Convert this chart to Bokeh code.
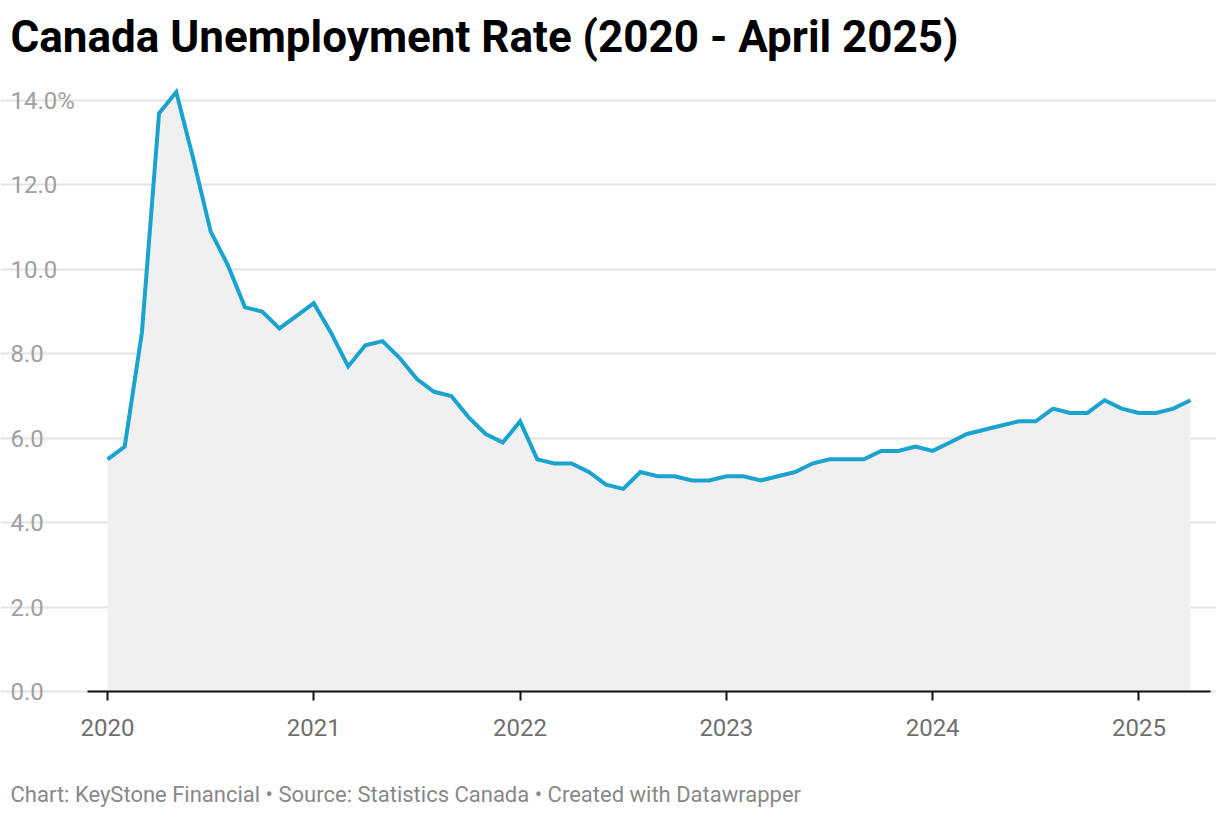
from bokeh.plotting import figure
from bokeh.models import Range1d, FixedTicker, ColumnDataSource, Title
from bokeh.core.properties import value
from bokeh.embed import file_html
from bokeh.resources import INLINE

# ---- data (monthly unemployment rate, %) ----
rate_2020 = [5.5, 5.8, 8.5, 13.7, 14.2, 12.6, 10.9, 10.1, 9.1, 9.0, 8.6, 8.9]
rate_2021 = [9.2, 8.5, 7.7, 8.2, 8.3, 7.9, 7.4, 7.1, 7.0, 6.5, 6.1, 5.9]
rate_2022 = [6.4, 5.5, 5.4, 5.4, 5.2, 4.9, 4.8, 5.2, 5.1, 5.1, 5.0, 5.0]
rate_2023 = [5.1, 5.1, 5.0, 5.1, 5.2, 5.4, 5.5, 5.5, 5.5, 5.7, 5.7, 5.8]
rate_2024 = [5.7, 5.9, 6.1, 6.2, 6.3, 6.4, 6.4, 6.7, 6.6, 6.6, 6.9, 6.7]
rate_2025 = [6.6, 6.6, 6.7, 6.9]

years = [2020, 2021, 2022, 2023, 2024, 2025]
year_labels = ["2020", "2021", "2022", "2023", "2024", "2025"]
y_ticks = [0, 2, 4, 6, 8, 10, 12, 14]
y_tick_labels = ["0.0", "2.0", "4.0", "6.0", "8.0", "10.0", "12.0", "14.0%"]

title_text = "Canada Unemployment Rate (2020 - April 2025)"
footer_text = "Chart: KeyStone Financial \u2022 Source: Statistics Canada \u2022 Created with Datawrapper"

# month index (months since Jan 2020) for every value
yearly = [rate_2020, rate_2021, rate_2022, rate_2023, rate_2024, rate_2025]
t_vals, r_vals = [], []
for yr, vals in zip(years, yearly):
    for m, v in enumerate(vals):
        t_vals.append((yr - years[0]) * 12 + m)
        r_vals.append(v)
source = ColumnDataSource(dict(t=t_vals, rate=r_vals, base=[0] * len(r_vals)))
tick_pos = [(yr - years[0]) * 12 for yr in years]

# ---- layout in page pixels (figure sits at page 0,0) ----
W, H = 1216, 814
x_first, x_last = 107, 1190          # page x of first / last month
ppm = (x_last - x_first) / (t_vals[-1] - t_vals[0])
def px_to_t(px):
    return (px - x_first) / ppm

zero_px, top_tick_px = 691, 100      # page y of 0 and 14
ppu = (zero_px - top_tick_px) / 14.0
frame_top, frame_bottom = 64, 776

p = figure(width=W, height=H, output_backend="svg", toolbar_location=None,
           x_range=Range1d(px_to_t(0), px_to_t(W)),
           y_range=Range1d(-(frame_bottom - zero_px) / ppu, (zero_px - frame_top) / ppu),
           min_border_left=0, min_border_right=0,
           min_border_top=frame_top, min_border_bottom=H - frame_bottom)
p.outline_line_color = None
p.background_fill_color = "white"
p.border_fill_color = "white"

# title
p.title.text = title_text
p.title.text_font = "Roboto"
p.title.text_font_style = "bold"
p.title.text_font_size = "44px"
p.title.text_color = "#000000"
p.title.align = "left"
p.title.offset = 10
p.title.standoff = 4

# area + line
p.varea(x="t", y1="base", y2="rate", source=source, fill_color="#f0f0f0")
p.line(x="t", y="rate", source=source, line_color="#1aa3cf", line_width=4,
       line_join="miter")

# y grid
p.xgrid.visible = False
p.ygrid.ticker = FixedTicker(ticks=y_ticks)
p.ygrid.grid_line_color = "#e3e3e3"
p.ygrid.grid_line_width = 2
p.ygrid.bounds = (px_to_t(87), px_to_t(1210))
p.yaxis.visible = False

# y tick labels, left aligned
lab_src = ColumnDataSource(dict(x=[px_to_t(10)] * len(y_ticks), y=y_ticks, text=y_tick_labels))
p.text(x="x", y="y", text="text", source=lab_src, text_font=value("Roboto"),
       text_font_size="24px", text_color="#a0a0a0", text_align="left",
       text_baseline="middle")

# x axis, drawn at y = 0
xa = p.xaxis[0]
xa.fixed_location = 0
xa.ticker = FixedTicker(ticks=tick_pos)
xa.major_label_overrides = {tp: lab for tp, lab in zip(tick_pos, year_labels)}
xa.bounds = (px_to_t(87), px_to_t(1210))
xa.axis_line_color = "#111111"
xa.axis_line_width = 2
xa.major_tick_line_color = "#111111"
xa.major_tick_line_width = 2
xa.major_tick_out = 9
xa.major_tick_in = 0
xa.minor_tick_line_color = None
xa.major_label_text_font = "Roboto"
xa.major_label_text_font_size = "24px"
xa.major_label_text_color = "#6f6f6f"
xa.major_label_standoff = 18

# footer
foot = Title(text=footer_text, text_font="Roboto", text_font_size="22px",
             text_font_style="normal", text_color="#888888", align="left",
             offset=10, standoff=6)
p.add_layout(foot, "below")

open("out.html", "w").write(file_html(p, INLINE))
